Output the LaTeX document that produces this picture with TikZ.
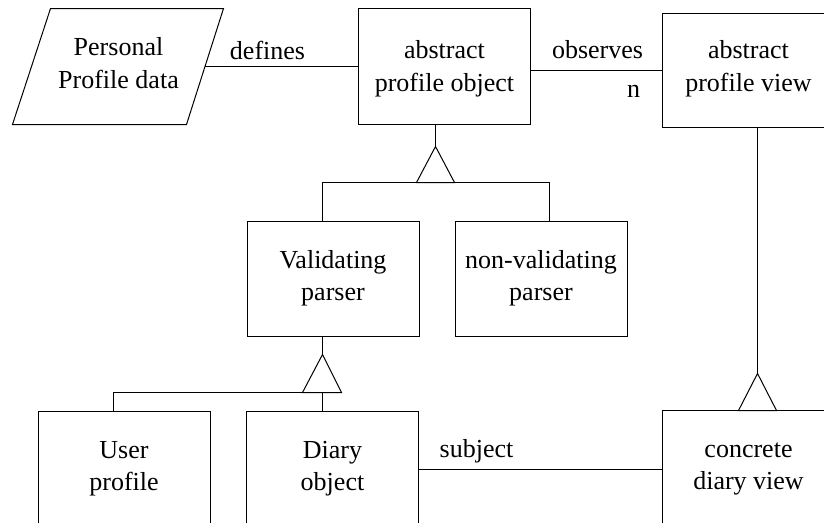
\documentclass[tikz,border=0pt]{standalone}
\usepackage{fontspec}
\setmainfont{Liberation Serif}
% two-line class label; the optional height of the first-line strut moves the text within its box
\newcommand\twoline[3][21]{\rule{0pt}{#1pt}#2\\#3\rule[-10pt]{0pt}{10pt}}
\begin{document}
\begin{tikzpicture}[x=1pt,y=-1pt,line width=1pt,
  txt/.style={inner sep=0pt,font=\fontsize{26}{32.5}\selectfont},
  cls/.style={txt,draw,minimum width=172pt,minimum height=115pt,align=center},
  lbl/.style={txt,anchor=base},
  gen/.style={draw,fill=white,line join=miter}]
\useasboundingbox (0,0) rectangle (824,522);
\clip (0,0) rectangle (824,522);
\begin{scope}[shift={(0.5,0.5)}]

% data store (parallelogram)
\draw (50,8) -- (223,8) -- (186,124) -- (12,124) -- cycle;
\node[txt,align=center] (pdata) at (118,66) {\twoline{Personal}{Profile data}};
\coordinate (pdataR) at (204.5,66);

% classes
\node[cls,minimum height=116pt] (apo) at (444,66) {\twoline[26.5]{abstract}{profile object}};
\node[cls,minimum height=114pt] (apv) at (748,70) {\twoline[18.5]{abstract}{profile view}};
\node[cls] (vp)  at (332.5,278.5) {\twoline{Validating}{parser}};
\node[cls] (nvp) at (540.5,278.5) {\twoline{non-validating}{parser}};
\node[cls] (up)  at (123.5,468.5) {\twoline{User}{profile}};
\node[cls] (do)  at (332,468.5) {\twoline{Diary}{object}};
\node[cls] (cdv) at (748,467.5) {\twoline{concrete}{diary view}};

% associations
\draw (pdataR) -- (apo.west);
\node[lbl] (ldef) at (267,59) {defines};
\draw (apv.west) -- (apv.west -| apo.east);
\node[lbl] (lobs) at (597,58) {observes};
\node[lbl] (ln) at (633,97) {n};
\draw (do.east) -- (do.east -| cdv.west);
\node[lbl] (lsub) at (476,457) {subject};

% generalization: profile object -> parsers
\coordinate (g1) at (435,146);
\coordinate (g1b) at (435,182);
\coordinate (xvp) at (322,0);
\coordinate (xnvp) at (549,0);
\draw (apo.south -| g1) -- (g1);
\draw (vp.north -| xvp) |- (g1b) -| (nvp.north -| xnvp);
\draw[gen] (g1) -- (416,182) -- (454,182) -- cycle;

% generalization: validating parser -> user profile, diary object
\coordinate (g2) at (322,354);
\coordinate (g2b) at (322,392);
\coordinate (xup) at (113,0);
\draw (vp.south -| g2) -- (g2);
\draw (up.north -| xup) |- (g2b);
\draw (g2b) -- (do.north -| g2b);
\draw[gen] (g2) -- (302,392) -- (341,392) -- cycle;

% generalization: profile view -> concrete diary view
\coordinate (g3) at (757,373);
\draw (apv.south -| g3) -- (g3);
\draw[gen] (g3) -- (738,410) -- (776,410) -- cycle;
\end{scope}
\end{tikzpicture}
\end{document}
